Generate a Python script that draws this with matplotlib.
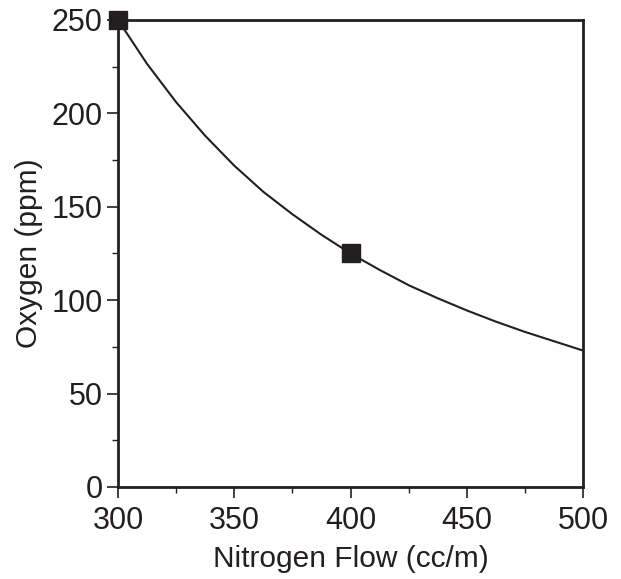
import matplotlib
matplotlib.use("Agg")
import matplotlib.pyplot as plt
from matplotlib.ticker import MultipleLocator

# Data
flow_curve = [300, 312.5, 325, 337.5, 350, 362.5, 375, 387.5, 400, 412.5, 425, 437.5, 450, 462.5, 475, 487.5, 500]
oxygen_curve = [250, 226.5, 206, 188, 172, 158, 146, 135, 125, 116.2, 108, 101, 94.5, 88.5, 83, 78, 73]
flow_points = [300, 400]
oxygen_points = [250, 125]

x_ticks = [300, 350, 400, 450, 500]
y_ticks = [0, 50, 100, 150, 200, 250]

ink = "#231f20"
plt.rcParams['font.family'] = ['Liberation Sans', 'DejaVu Sans']

fig = plt.figure(figsize=(6.21, 5.79), dpi=100)
ax = fig.add_axes([0.19, 0.159, 0.749, 0.8065])

ax.plot(flow_curve, oxygen_curve, color=ink, lw=1.5, zorder=2)
ax.plot(flow_points, oxygen_points, 's', color=ink, markersize=13, zorder=3, clip_on=False)

ax.set_xlim(300, 500)
ax.set_ylim(0, 250)
ax.set_xticks(x_ticks)
ax.set_yticks(y_ticks)
ax.xaxis.set_minor_locator(MultipleLocator(25))
ax.yaxis.set_minor_locator(MultipleLocator(25))

for s in ax.spines.values():
    s.set_color(ink)
    s.set_linewidth(2)

ax.tick_params(which='major', direction='out', length=8, width=1.2, color=ink,
               labelsize=22, labelcolor=ink, pad=3)
ax.tick_params(axis='x', which='major', pad=6)
ax.tick_params(which='minor', direction='out', length=4, width=1.0, color=ink)

ax.set_xlabel("Nitrogen Flow (cc/m)", fontsize=21.5, color=ink, labelpad=6)
ax.set_ylabel("Oxygen (ppm)", fontsize=21.5, color=ink, labelpad=6)

fig.savefig("out.png", dpi=100, facecolor="white")
